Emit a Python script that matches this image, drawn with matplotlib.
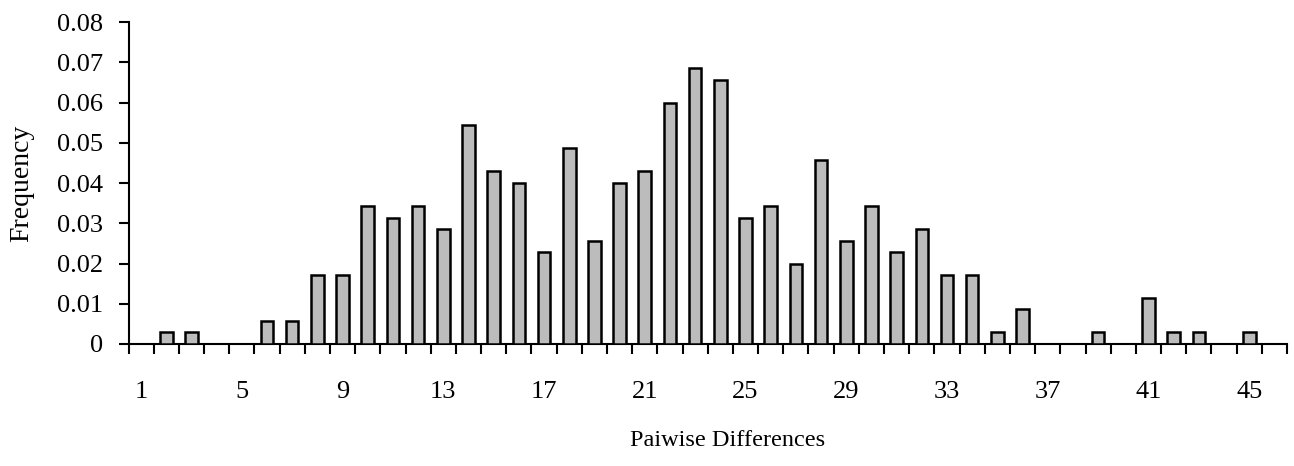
import matplotlib
matplotlib.use("Agg")
import matplotlib.pyplot as plt
import numpy as np

# Pairwise difference classes 1..46 and their observed frequencies
differences = list(range(1, 47))
frequency = [
    0.0, 0.0029, 0.0029, 0.0, 0.0, 0.0057, 0.0057, 0.0171, 0.0171, 0.0343,
    0.0314, 0.0343, 0.0286, 0.0543, 0.0429, 0.0400, 0.0229, 0.0486, 0.0257, 0.0400,
    0.0429, 0.0600, 0.0686, 0.0657, 0.0314, 0.0343, 0.0200, 0.0457, 0.0257, 0.0343,
    0.0229, 0.0286, 0.0171, 0.0171, 0.0029, 0.0086, 0.0, 0.0, 0.0029, 0.0,
    0.0114, 0.0029, 0.0029, 0.0, 0.0029, 0.0,
]
tick_labels = [str(v) for v in range(1, 47, 4)]
y_ticks = [0, 0.01, 0.02, 0.03, 0.04, 0.05, 0.06, 0.07, 0.08]
y_tick_labels = ["0", "0.01", "0.02", "0.03", "0.04", "0.05", "0.06", "0.07", "0.08"]

plt.rcParams["font.family"] = ["Liberation Serif", "DejaVu Serif"]

fig = plt.figure(figsize=(12.94, 4.66), dpi=100)
ax = fig.add_axes([128.5 / 1294, 1 - 344 / 466, (1287 - 128.5) / 1294, (344 - 22) / 466])

# empty classes get no outline so the baseline stays clean
edge_widths = [1.8 if f > 0 else 0 for f in frequency]
ax.bar(differences, frequency, width=0.5, color="#bcbcbc",
       edgecolor="black", linewidth=edge_widths, zorder=3)

ax.set_xlim(0.5, 46.5)
ax.set_ylim(0, 0.08)

# category boundaries carry the tick marks, labels sit under every fourth class
ax.set_xticks(np.arange(0.5, 47, 1.0))
ax.set_xticklabels([])
ax.set_xticks(list(range(1, 47, 4)), minor=True)
ax.set_xticklabels(tick_labels, minor=True)
ax.tick_params(axis="x", which="major", direction="out", length=7.5, width=1.5)
ax.tick_params(axis="x", which="minor", length=0, pad=27, labelsize=19)

ax.set_yticks(y_ticks)
ax.set_yticklabels(y_tick_labels)
ax.tick_params(axis="y", direction="out", length=7.5, width=1.5, pad=11, labelsize=19)

for side in ("top", "right"):
    ax.spines[side].set_visible(False)
for side in ("left", "bottom"):
    ax.spines[side].set_linewidth(1.5)

ax.set_xlabel("Paiwise Differences", fontsize=17.5, labelpad=19,
              x=0.517, ha="center")
ax.set_ylabel("Frequency", fontsize=20, labelpad=16)

fig.savefig("out.png", dpi=100)
